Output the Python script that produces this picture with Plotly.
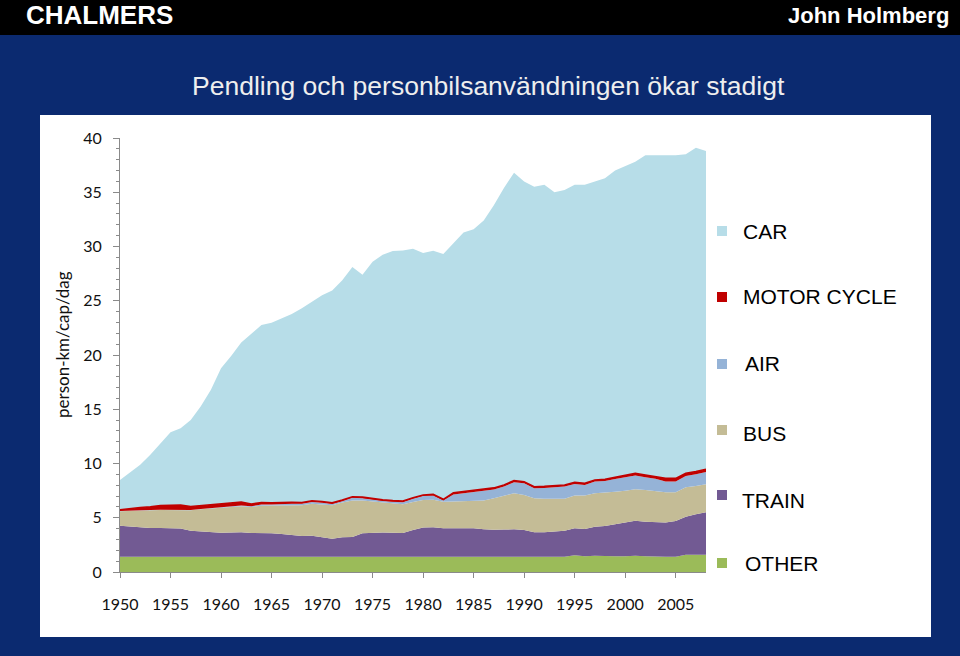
import plotly.graph_objects as go

years = list(range(1950, 2009))

other = [1.4]*45 + [1.55, 1.45, 1.5, 1.45, 1.45, 1.45, 1.5, 1.45, 1.4, 1.4, 1.4, 1.6, 1.6, 1.6]

train = [2.87, 2.8, 2.7, 2.65, 2.65, 2.63, 2.6, 2.41, 2.35, 2.25,
         2.22, 2.25, 2.26, 2.2, 2.2, 2.17, 2.1, 2.0, 1.92, 1.95,
         1.82, 1.67, 1.8, 1.82, 2.17, 2.23, 2.23, 2.22, 2.2, 2.47,
         2.7, 2.72, 2.63, 2.63, 2.65, 2.63, 2.55, 2.5, 2.52, 2.53,
         2.47, 2.26, 2.26, 2.36, 2.4, 2.48, 2.52, 2.68, 2.78, 2.94,
         3.09, 3.23, 3.19, 3.22, 3.17, 3.3, 3.5, 3.72, 3.9]

bus = [1.33, 1.45, 1.58, 1.65, 1.67, 1.69, 1.75, 1.89, 2.03, 2.2,
       2.33, 2.35, 2.39, 2.4, 2.5, 2.55, 2.65, 2.75, 2.83, 2.93,
       3.03, 3.08, 3.2, 3.38, 3.03, 2.87, 2.77, 2.68, 2.64, 2.58,
       2.53, 2.53, 2.45, 2.47, 2.47, 2.52, 2.65, 2.9, 3.13, 3.32,
       3.23, 3.14, 3.09, 2.98, 2.95, 3.01, 3.08, 3.07, 3.07, 3.01,
       2.96, 2.89, 2.92, 2.84, 2.78, 2.65, 2.7, 2.6, 2.58]

air = [0.02, 0.02, 0.02, 0.02, 0.02, 0.02, 0.02, 0.02, 0.03, 0.03,
       0.04, 0.07, 0.09, 0.07, 0.12, 0.11, 0.15, 0.15, 0.13, 0.17,
       0.13, 0.12, 0.13, 0.24, 0.2, 0.15, 0.15, 0.18, 0.2, 0.3,
       0.37, 0.4, 0.12, 0.65, 0.73, 0.8, 0.85, 0.8, 0.82, 1.02,
       1.07, 0.91, 1.0, 1.06, 1.12, 1.07, 0.97, 1.08, 1.09, 1.17,
       1.23, 1.28, 1.18, 1.13, 0.98, 0.98, 1.05, 1.08, 1.14]

motorcycle = [0.12, 0.2, 0.25, 0.3, 0.38, 0.4, 0.4, 0.32, 0.3, 0.3,
              0.28, 0.28, 0.3, 0.2, 0.18, 0.15, 0.13, 0.12, 0.12, 0.12,
              0.12, 0.1, 0.1, 0.1, 0.1, 0.1, 0.1, 0.1, 0.1, 0.1,
              0.1, 0.1, 0.1, 0.15, 0.15, 0.15, 0.15, 0.15, 0.15, 0.15,
              0.15, 0.15, 0.15, 0.15, 0.15, 0.15, 0.15, 0.15, 0.15, 0.15,
              0.15, 0.2, 0.2, 0.2, 0.3, 0.3, 0.25, 0.25, 0.25]

car = [2.74, 3.28, 3.94, 4.78, 5.7, 6.75, 7.09, 7.98, 9.16, 10.62,
       12.52, 13.55, 14.72, 15.73, 16.36, 16.6, 16.93, 17.36, 17.9, 18.33,
       19.0, 19.57, 20.27, 21.16, 20.5, 21.85, 22.6, 23.0, 23.1, 22.95,
       22.3, 22.45, 22.6, 23.0, 23.9, 24.1, 24.8, 26.05, 27.38, 28.38,
       27.68, 27.64, 27.8, 27.05, 27.18, 27.44, 27.53, 27.52, 27.76, 28.28,
       28.52, 28.7, 29.46, 29.61, 29.77, 29.77, 29.4, 29.85, 29.33]

series_names = ["OTHER", "TRAIN", "BUS", "AIR", "MOTOR CYCLE", "CAR"]
series_values = [other, train, bus, air, motorcycle, car]
series_colors = ["#9bbb59", "#725a93", "#c4bc96", "#95b3d7", "#c00000", "#b7dde8"]

x_ticks = [1950, 1955, 1960, 1965, 1970, 1975, 1980, 1985, 1990, 1995, 2000, 2005]
y_ticks = [0, 5, 10, 15, 20, 25, 30, 35, 40]

title_text = "Pendling och personbilsanvändningen ökar stadigt"
y_title = "person-km/cap/dag"

# layout in pixels
W, H = 960, 656
L, R, T, B = 120, 706, 138, 572
pw, ph = R - L, B - T

def px(x):
    return (x - L) / pw

def py(y):
    return (B - y) / ph

fig = go.Figure()
for name, vals, col in zip(series_names, series_values, series_colors):
    is_mc = name == "MOTOR CYCLE"
    fig.add_trace(go.Scatter(
        x=years, y=vals, name=name, stackgroup="one", mode="lines",
        line=dict(color=col, width=1.6 if is_mc else 0),
        fillcolor=col, showlegend=False, hoverinfo="x+y+name"))

shapes = []
annotations = []
# black header bar
shapes.append(dict(type="rect", xref="paper", yref="paper", x0=px(0), x1=px(W), y0=py(0), y1=py(35),
                   fillcolor="#000000", line=dict(width=0), layer="below"))
# white panel
shapes.append(dict(type="rect", xref="paper", yref="paper", x0=px(40), x1=px(931), y0=py(115), y1=py(637),
                   fillcolor="#ffffff", line=dict(width=0), layer="below"))

annotations.append(dict(text="<b>CHALMERS</b>", xref="paper", yref="paper", x=px(24), y=py(15),
                        xanchor="left", yanchor="middle", showarrow=False,
                        font=dict(family="Liberation Sans", size=26, color="#ffffff")))
annotations.append(dict(text="<b>John Holmberg</b>", xref="paper", yref="paper", x=px(951), y=py(15),
                        xanchor="right", yanchor="middle", showarrow=False,
                        font=dict(family="Liberation Sans", size=22, color="#ffffff")))
annotations.append(dict(text=title_text, xref="paper", yref="paper", x=px(488), y=py(86),
                        xanchor="center", yanchor="middle", showarrow=False,
                        font=dict(family="Liberation Sans", size=26.5, color="#eeeeee")))
annotations.append(dict(text=y_title, xref="paper", yref="paper", x=px(62), y=py(345),
                        xanchor="center", yanchor="middle", showarrow=False, textangle=-90,
                        font=dict(family="Lato", size=17, color="#111111")))

legend_rows = [("CAR", 232, 231, 741), ("MOTOR CYCLE", 296, 297, 741), ("AIR", 363, 364, 743),
               ("BUS", 434, 430, 741), ("TRAIN", 500, 495, 740), ("OTHER", 563, 563, 743)]
color_of = dict(zip(series_names, series_colors))
for name, ty, sy, tx in legend_rows:
    shapes.append(dict(type="rect", xref="paper", yref="paper", x0=px(717), x1=px(727),
                       y0=py(sy + 5), y1=py(sy - 5), fillcolor=color_of[name], line=dict(width=0)))
    annotations.append(dict(text=name, xref="paper", yref="paper", x=px(tx), y=py(ty),
                            xanchor="left", yanchor="middle", showarrow=False,
                            font=dict(family="Liberation Sans", size=21, color="#000000")))

fig.update_layout(
    width=W, height=H,
    margin=dict(l=L, r=W - R, t=T, b=H - B, pad=0),
    paper_bgcolor="#0b2a70", plot_bgcolor="#ffffff",
    shapes=shapes, annotations=annotations,
    showlegend=False,
)
fig.update_xaxes(range=[1950, 2008], tickvals=x_ticks, ticks="outside", ticklen=5,
                 tickcolor="#8a8a8a", showline=True, linecolor="#8a8a8a", linewidth=1,
                 showgrid=False, zeroline=False, ticklabelstandoff=13,
                 tickfont=dict(family="Lato", size=16, color="#111111"))
fig.update_yaxes(range=[0, 40], tickvals=y_ticks, ticks="outside", ticklen=6,
                 tickcolor="#8a8a8a", showline=True, linecolor="#8a8a8a", linewidth=1,
                 showgrid=False, zeroline=False, ticklabelstandoff=8,
                 minor=dict(dtick=1, ticks="outside", ticklen=3, tickcolor="#8a8a8a", showgrid=False),
                 tickfont=dict(family="Lato", size=16, color="#111111"))

fig.write_html("out.html", config={"displayModeBar": False},
               post_script="document.body.style.margin='0';document.body.style.overflow='hidden';")
